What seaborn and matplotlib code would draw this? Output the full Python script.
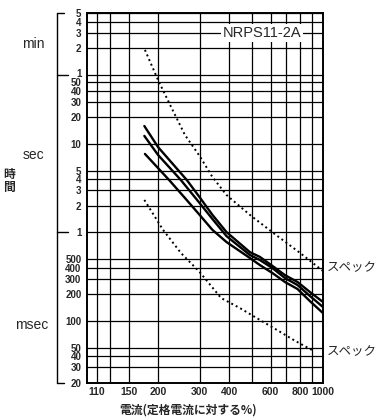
import matplotlib
matplotlib.use("Agg")
import matplotlib.pyplot as plt
import matplotlib.transforms as mtransforms
import pandas as pd
import seaborn as sns

# Operating characteristic of NRPS11-2A: current (% of rated) vs. operating time (s)
curve_a_pct = [175, 200, 265, 300, 340, 390, 490, 540, 610, 690, 780, 880, 1000]
curve_a_sec = [15.9, 9.2, 3.9, 2.5, 1.58, 1.01, 0.60, 0.53, 0.42, 0.33, 0.276, 0.213, 0.164]
curve_b_pct = [175, 200, 250, 300, 340, 390, 490, 540, 610, 690, 780, 880, 1000]
curve_b_sec = [12.3, 7.5, 3.9, 2.15, 1.42, 0.91, 0.557, 0.489, 0.397, 0.306, 0.255, 0.192, 0.144]
curve_c_pct = [176, 223, 260, 300, 340, 390, 490, 540, 610, 690, 780, 880, 1000]
curve_c_sec = [7.7, 3.9, 2.45, 1.58, 1.07, 0.78, 0.515, 0.429, 0.349, 0.276, 0.230, 0.168, 0.123]

# Specification limits
spec_upper_pct = [176, 200, 225, 260, 300, 340, 390, 490, 615, 800, 1000]
spec_upper_sec = [115, 52.6, 27.5, 12.6, 7.3, 4.23, 2.65, 1.58, 0.99, 0.587, 0.367]
spec_lower_pct = [175, 210, 250, 300, 370, 445, 540, 640, 760, 900]
spec_lower_sec = [2.33, 1.07, 0.587, 0.358, 0.182, 0.14, 0.103, 0.079, 0.06, 0.047]

# Axis ticks
time_ticks = [300, 240, 180, 120, 60, 50, 40, 30, 20, 10, 5, 4, 3, 2, 1,
              0.5, 0.4, 0.3, 0.2, 0.1, 0.05, 0.04, 0.03, 0.02]
time_labels = ["5", "4", "3", "2", "1", "50", "40", "30", "20", "10", "5", "4", "3", "2", "1",
               "500", "400", "300", "200", "100", "50", "40", "30", "20"]
current_ticks = [110, 125, 150, 200, 300, 400, 500, 600, 700, 800, 900, 1000]
current_labels = ["110", "", "150", "200", "300", "400", "", "600", "", "800", "", "1000"]

model_name = "NRPS11-2A"
spec_label = "スペック"
unit_min, unit_sec, unit_msec = "min", "sec", "msec"
y_title = "時\n間"
x_title = "電流(定格電流に対する%)"

sns.set_theme(style="white")
plt.rcParams["font.family"] = ["Liberation Sans", "Noto Sans CJK JP", "DejaVu Sans"]
cjk = ["Noto Sans CJK JP", "DejaVu Sans"]

fig = plt.figure(figsize=(3.77, 4.19), dpi=100)
ax = fig.add_axes([87 / 377, 1 - 383 / 419, 236 / 377, 370 / 419])

solid = [(curve_a_pct, curve_a_sec), (curve_b_pct, curve_b_sec), (curve_c_pct, curve_c_sec)]
for pct, sec in solid:
    df = pd.DataFrame({"pct": pct, "sec": sec})
    sns.lineplot(data=df, x="pct", y="sec", ax=ax, color="black", lw=1.7, sort=False)

for pct, sec in [(spec_upper_pct, spec_upper_sec), (spec_lower_pct, spec_lower_sec)]:
    df = pd.DataFrame({"pct": pct, "sec": sec})
    sns.lineplot(data=df, x="pct", y="sec", ax=ax, color="black", lw=1.4,
                 linestyle=(0, (1, 1.6)), sort=False)

ax.set_xscale("log")
ax.set_yscale("log")
ax.set_xlim(100, 1000)
ax.set_ylim(0.02, 300)
ax.minorticks_off()

ax.set_xticks(current_ticks)
ax.set_xticklabels(current_labels, fontsize=7.5, fontweight="bold")
ax.set_yticks(time_ticks)
ax.set_yticklabels(time_labels, fontsize=7, fontweight="bold")
ax.tick_params(axis="both", length=0, pad=3)
ax.tick_params(axis="y", pad=4)
ax.set_xlabel("")
ax.set_ylabel("")
ax.grid(True, which="major", color="black", lw=0.9)
ax.set_axisbelow(True)
for s in ax.spines.values():
    s.set_color("black")
    s.set_linewidth(1.4)

# Lift the "1 min" label a little so it clears "50" just below it
one_min = ax.get_yticklabels()[4]
one_min.set_transform(one_min.get_transform() +
                      mtransforms.ScaledTranslation(0, 1.5 / 72, fig.dpi_scale_trans))

# Model name sitting on the 3 min grid line
ax.text(551, 180, model_name, fontsize=10.5, ha="center", va="center",
        bbox=dict(facecolor="white", edgecolor="none", pad=1.5))

# Spec labels beside the dotted limit curves
side = mtransforms.blended_transform_factory(ax.transAxes, ax.transData)
ax.text(1.017, 0.40, spec_label, transform=side, fontsize=9, va="center", ha="left",
        family=cjk, clip_on=False)
ax.text(1.017, 0.045, spec_label, transform=side, fontsize=9, va="center", ha="left",
        family=cjk, clip_on=False)

# Unit brackets on the left of the time axis
bx, tick_long, tick_short = -0.127, -0.080, -0.097
ax.plot([bx, bx], [0.02, 300], transform=side, color="black", lw=1.0, clip_on=False)
for yv, xe in [(300, tick_short), (60, tick_long), (1, tick_long), (0.02, tick_short)]:
    ax.plot([bx, xe], [yv, yv], transform=side, color="black", lw=1.0, clip_on=False)

fig.text(33 / 377, 1 - 44 / 419, unit_min, fontsize=10, ha="center", va="center")
fig.text(33 / 377, 1 - 155 / 419, unit_sec, fontsize=10, ha="center", va="center")
fig.text(32 / 377, 1 - 325 / 419, unit_msec, fontsize=10, ha="center", va="center")
fig.text(9 / 377, 1 - 181 / 419, y_title, fontsize=8.5, ha="center", va="center",
         family=cjk, fontweight="bold", linespacing=1.0)
fig.text(188 / 377, 1 - 410 / 419, x_title, fontsize=8.5, ha="center", va="center",
         family=cjk, fontweight="bold")

fig.savefig("out.png", dpi=100)
